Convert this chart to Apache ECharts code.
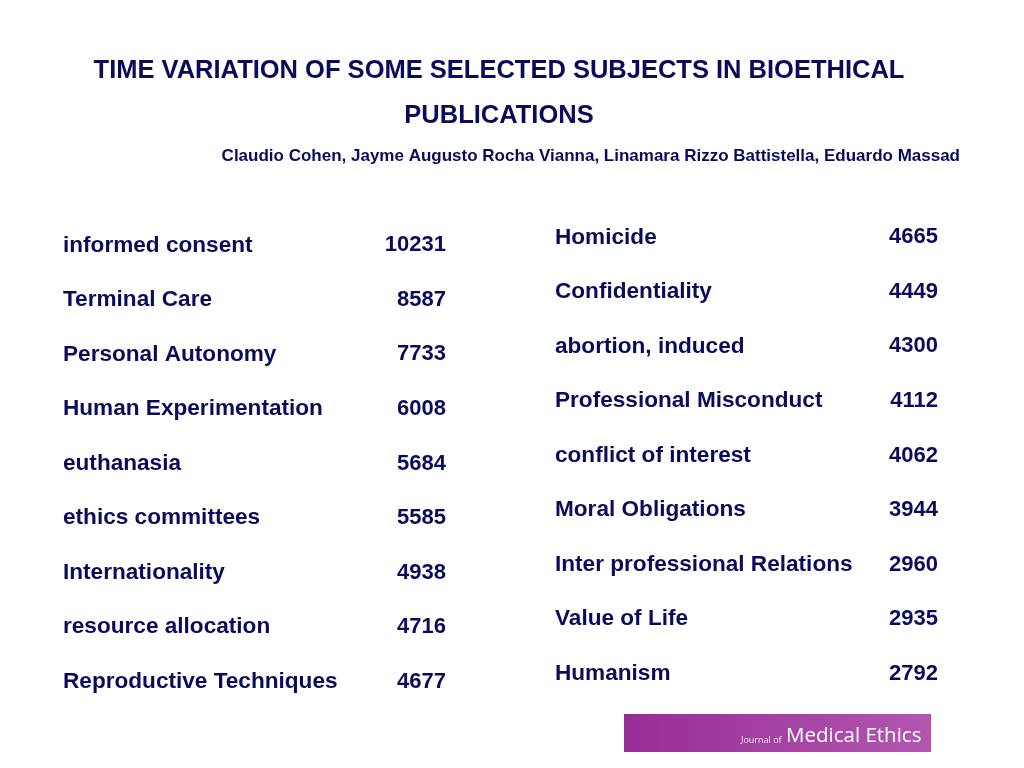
<!DOCTYPE html>
<html>
<head>
<meta charset="utf-8">
<script src="https://cdn.jsdelivr.net/npm/echarts@6/dist/echarts.min.js"></script>
<style>
  html, body { margin: 0; padding: 0; background: #fff; }
  #main { width: 1024px; height: 768px; }
</style>
</head>
<body>
<div id="main"></div>
<script>
// left column
var leftSubjects = ['informed consent', 'Terminal Care', 'Personal Autonomy', 'Human Experimentation',
  'euthanasia', 'ethics committees', 'Internationality', 'resource allocation', 'Reproductive Techniques'];
var leftCounts = [10231, 8587, 7733, 6008, 5684, 5585, 4938, 4716, 4677];

// right column
var rightSubjects = ['Homicide', 'Confidentiality', 'abortion, induced', 'Professional Misconduct',
  'conflict of interest', 'Moral Obligations', 'Inter professional Relations', 'Value of Life', 'Humanism'];
var rightCounts = [4665, 4449, 4300, 4112, 4062, 3944, 2960, 2935, 2792];

var navy = '#0b0b5c';
var font = '"Liberation Sans", Arial, Helvetica, sans-serif';

var chart = echarts.init(document.getElementById('main'));

// name axis on the left side of a grid, count axis on the right side
function nameAxis(gi, names) {
  return {
    type: 'category', gridIndex: gi, position: 'left', inverse: true, data: names,
    axisLine: { show: false }, axisTick: { show: false }, splitLine: { show: false },
    axisLabel: { align: 'left', margin: 0, color: navy, fontSize: 22.6, fontWeight: 'bold', fontFamily: font }
  };
}
function countAxis(gi, names, counts) {
  return {
    type: 'category', gridIndex: gi, position: 'right', inverse: true, data: names,
    axisLine: { show: false }, axisTick: { show: false }, splitLine: { show: false },
    axisLabel: {
      align: 'right', margin: 0, color: navy, fontSize: 22, fontWeight: 'bold', fontFamily: font,
      formatter: function (v, i) { return String(counts[i]); }
    }
  };
}

var option = {
  backgroundColor: '#ffffff',
  animation: false,
  title: [{
    text: 'TIME VARIATION OF SOME SELECTED SUBJECTS IN BIOETHICAL\nPUBLICATIONS',
    left: 494, top: 43, textAlign: 'center',
    textStyle: { color: navy, fontSize: 25.5, fontWeight: 'bold', fontFamily: font, lineHeight: 45 }
  }, {
    text: 'Claudio Cohen, Jayme Augusto Rocha Vianna, Linamara Rizzo Battistella, Eduardo Massad',
    right: 59, top: 141,
    textStyle: { color: navy, fontSize: 17, fontWeight: 'bold', fontFamily: font, lineHeight: 20 }
  }],
  grid: [
    { left: 63, right: 578, top: 218, height: 491 },
    { left: 555, right: 86, top: 210, height: 491 }
  ],
  xAxis: [
    { type: 'value', gridIndex: 0, show: false, max: 10231 },
    { type: 'value', gridIndex: 1, show: false, max: 10231 }
  ],
  yAxis: [
    nameAxis(0, leftSubjects), countAxis(0, leftSubjects, leftCounts),
    nameAxis(1, rightSubjects), countAxis(1, rightSubjects, rightCounts)
  ],
  series: [
    { type: 'bar', xAxisIndex: 0, yAxisIndex: 0, data: leftCounts, itemStyle: { color: 'rgba(0,0,0,0)' }, silent: true },
    { type: 'bar', xAxisIndex: 1, yAxisIndex: 2, data: rightCounts, itemStyle: { color: 'rgba(0,0,0,0)' }, silent: true }
  ],
  // journal logo, bottom right
  graphic: [{
    type: 'rect', x: 624, y: 714, shape: { x: 0, y: 0, width: 307, height: 38 },
    style: { fill: { type: 'linear', x: 0, y: 0, x2: 1, y2: 0, colorStops: [
      { offset: 0, color: '#972d95' }, { offset: 1, color: '#b257b0' }] } }
  }, {
    type: 'text', x: 741, y: 745,
    style: { text: 'Journal of', fill: '#f4e6f4', font: '9px "Open Sans", sans-serif', verticalAlign: 'bottom' }
  }, {
    type: 'text', x: 786, y: 747,
    style: { text: 'Medical Ethics', fill: '#ffffff', font: '20.5px "Open Sans", sans-serif', verticalAlign: 'bottom' }
  }]
};

chart.setOption(option);
</script>
</body>
</html>
